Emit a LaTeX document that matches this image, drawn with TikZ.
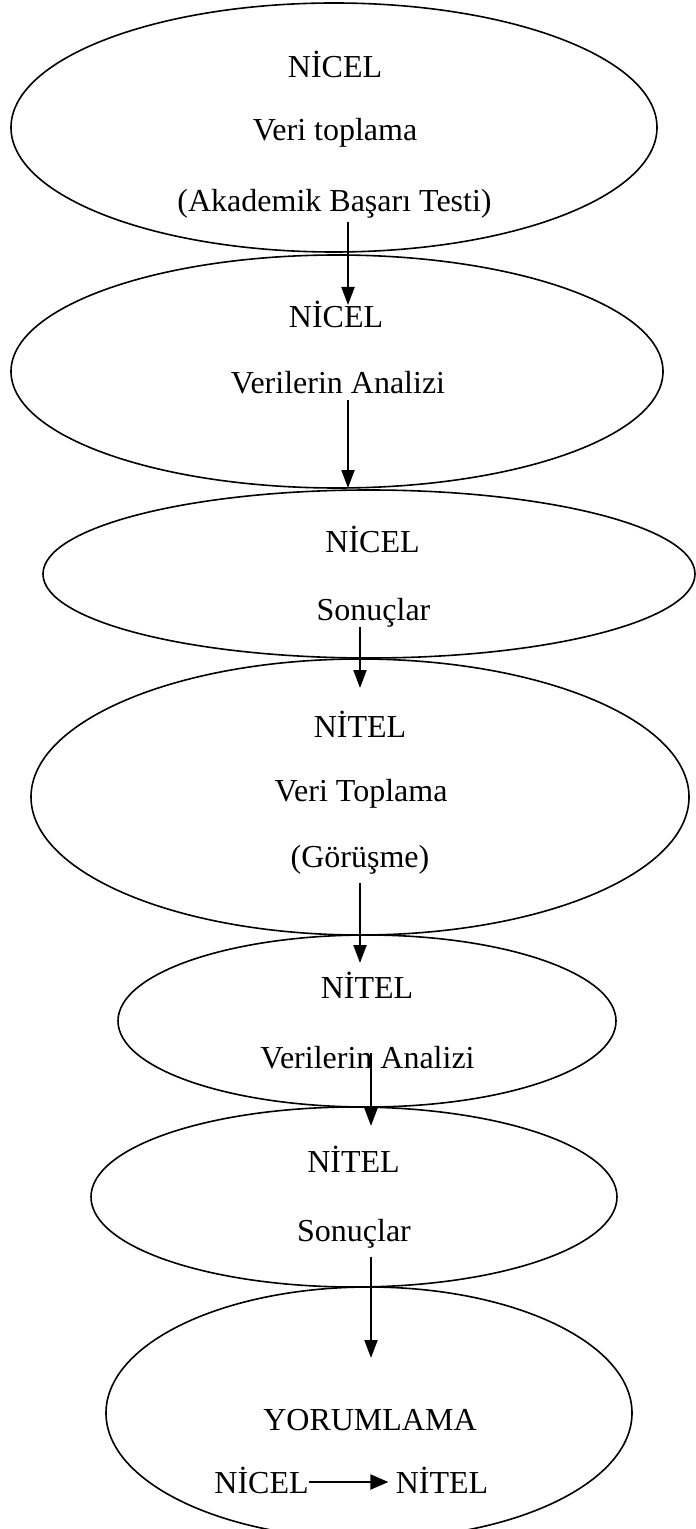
\documentclass[tikz,border=0pt]{standalone}
\usepackage{fontspec}
\setmainfont{Liberation Serif}
\usetikzlibrary{arrows.meta,shapes.geometric}

\begin{document}
\begin{tikzpicture}[x=0.5pt,y=0.5pt,yscale=-1,xscale=1,
  ell/.style={draw,ellipse,line width=0.8pt,inner sep=0pt},
  lbl/.style={inner sep=0pt,anchor=base,font=\fontsize{16}{19}\selectfont},
  flow/.style={-{Triangle[width=6.5pt,length=9pt]},line width=1pt}]
\useasboundingbox (0,0) rectangle (695,1529);

%Shape: Ellipse 1
\node [ell,minimum width=323pt,minimum height=124.5pt] (e1) at (334,127.5) {};
%Shape: Ellipse 2
\node [ell,minimum width=326pt,minimum height=116.5pt] (e2) at (337,371.5) {};
%Shape: Ellipse 3
\node [ell,minimum width=326pt,minimum height=84pt] (e3) at (369,574) {};
%Shape: Ellipse 4
\node [ell,minimum width=329pt,minimum height=138pt] (e4) at (360,797) {};
%Shape: Ellipse 5
\node [ell,minimum width=249pt,minimum height=86pt] (e5) at (367,1021) {};
%Shape: Ellipse 6
\node [ell,minimum width=263pt,minimum height=90pt] (e6) at (354,1197) {};
%Shape: Ellipse 7
\node [ell,minimum width=263pt,minimum height=126pt] (e7) at (369,1413) {};

% Text Node
\node [lbl] (t1a) at (335,78) {NİCEL};
\node [lbl] (t1b) at (335,141) {Veri toplama};
\node [lbl] (t1c) at (334.5,211.5) {(Akademik Başarı Testi)};
% Text Node
\node [lbl] (t2a) at (336,327.5) {NİCEL};
\node [lbl] (t2b) at (338,393.5) {Verilerin Analizi};
% Text Node
\node [lbl] (t3a) at (372.5,552.5) {NİCEL};
\node [lbl] (t3b) at (373.5,620) {Sonuçlar};
% Text Node
\node [lbl] (t4a) at (360,737.5) {NİTEL};
\node [lbl] (t4b) at (361,801) {Veri Toplama};
\node [lbl] (t4c) at (360,867) {(Görüşme)};
% Text Node
\node [lbl] (t5a) at (367,998.5) {NİTEL};
\node [lbl] (t5b) at (367.5,1068.5) {Verilerin Analizi};
% Text Node
\node [lbl] (t6a) at (353.5,1172) {NİTEL};
\node [lbl] (t6b) at (354,1241.5) {Sonuçlar};
% Text Node
\node [lbl] (t7a) at (370,1430.5) {YORUMLAMA};
\node [lbl] (t7b) at (261.5,1493) {NİCEL};
\node [lbl] (t7c) at (442,1493) {NİTEL};

%Straight Lines
\coordinate (a1s) at (348,222);  \coordinate (a1e) at (348,305);
\coordinate (a2s) at (348,400);  \coordinate (a2e) at (348,488);
\coordinate (a3s) at (360,627);  \coordinate (a3e) at (360,688);
\coordinate (a4s) at (360,883);  \coordinate (a4e) at (360,963);
\coordinate (a5s) at (371,1053); \coordinate (a5e) at (371,1126);
\coordinate (a6s) at (371,1257); \coordinate (a6e) at (371,1358);
\draw [flow] (a1s) -- (a1e);
\draw [flow] (a2s) -- (a2e);
\draw [flow] (a3s) -- (a3e);
\draw [flow] (a4s) -- (a4e);
\draw [flow] (a5s) -- (a5e);
\draw [flow] (a6s) -- (a6e);
\draw [flow,-{Triangle[width=7.5pt,length=9pt]},shorten >=3.5pt] ([yshift=-5.5pt]t7b.base east) -- ([yshift=-5.5pt]t7c.base west);

\end{tikzpicture}
\end{document}
